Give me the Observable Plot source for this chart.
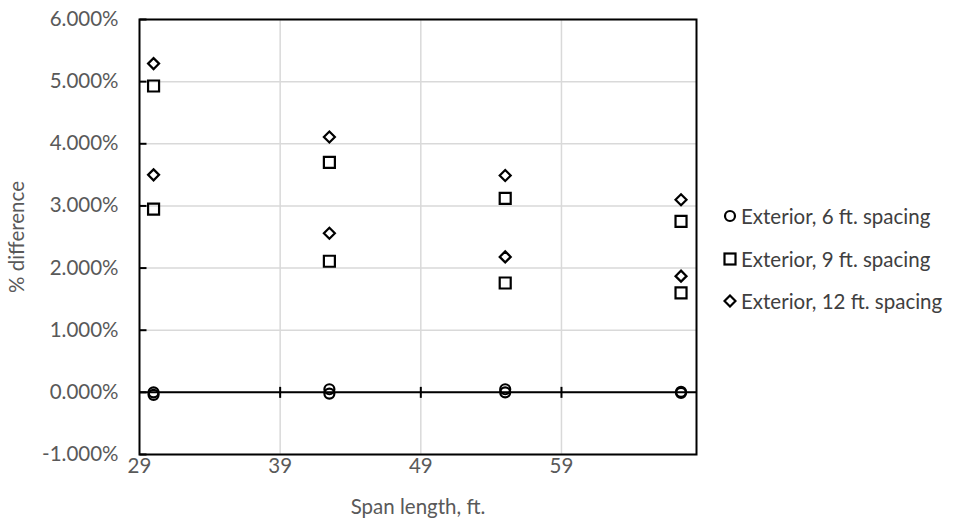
<!DOCTYPE html>
<html><head><meta charset="utf-8">
<script src="https://cdn.jsdelivr.net/npm/d3@7"></script>
<script src="https://cdn.jsdelivr.net/npm/@observablehq/plot@0.6"></script>
<style>
body{margin:0;background:#fff;}
#wrap{position:relative;width:956px;height:524px;font-family:Lato,"Open Sans",sans-serif;}
#legend{position:absolute;left:723px;top:195px;color:#404040;font-size:20.5px;}
.item{display:flex;align-items:center;height:42.5px;white-space:nowrap;}
.item svg{margin-right:4px;flex:none;}
</style></head><body><div id="wrap"><div id="legend"></div></div>
<script>
// Data (values in %)
const spans = [30, 42.5, 55, 67.5];
const ext6A = [0.00, 0.05, 0.05, 0.01];
const ext6B = [-0.04, -0.02, 0.00, -0.01];
const ext9A = [4.93, 3.70, 3.12, 2.75];
const ext9B = [2.95, 2.11, 1.76, 1.60];
const ext12A = [5.29, 4.11, 3.49, 3.10];
const ext12B = [3.50, 2.56, 2.18, 1.87];
const seriesNames = ["Exterior, 6 ft. spacing", "Exterior, 9 ft. spacing", "Exterior, 12 ft. spacing"];
const xTicks = [29, 39, 49, 59];
const yTicks = [-1, 0, 1, 2, 3, 4, 5, 6];

function rows(name, ...arrs) {
  const out = [];
  for (const a of arrs) a.forEach((v, i) => out.push({span: spans[i], value: v, series: name}));
  return out;
}
const d6 = rows(seriesNames[0], ext6A, ext6B);
const d9 = rows(seriesNames[1], ext9A, ext9B);
const d12 = rows(seriesNames[2], ext12A, ext12B);

const circleSym = {draw(ctx){ const r = 5; ctx.moveTo(r, 0); ctx.arc(0, 0, r, 0, 2 * Math.PI); }};
const squareSym = {draw(ctx){ const h = 5.5; ctx.moveTo(-h, -h); ctx.lineTo(h, -h); ctx.lineTo(h, h); ctx.lineTo(-h, h); ctx.closePath(); }};
const diamondSym = {draw(ctx){ const h = 5.5; ctx.moveTo(0, -h); ctx.lineTo(h, 0); ctx.lineTo(0, h); ctx.lineTo(-h, 0); ctx.closePath(); }};
const vTick = {draw(ctx){ ctx.moveTo(0, -5.5); ctx.lineTo(0, 5.5); }};
const hTick = {draw(ctx){ ctx.moveTo(0, 0); ctx.lineTo(7, 0); }};

const font = "Lato, 'Open Sans', sans-serif";
const chart = Plot.plot({
  width: 956, height: 524,
  marginLeft: 139, marginRight: 260, marginTop: 19, marginBottom: 70,
  style: {fontFamily: font, fontSize: "20.5px", color: "#595959", background: "white"},
  x: {domain: [29, 68.6]},
  y: {domain: [-1, 6]},
  marks: [
    Plot.gridX(xTicks.slice(1), {stroke: "#d9d9d9", strokeOpacity: 1, strokeWidth: 1.5}),
    Plot.gridY(yTicks, {stroke: "#d9d9d9", strokeOpacity: 1, strokeWidth: 1.5}),
    Plot.ruleY([0], {stroke: "black", strokeWidth: 2}),
    Plot.dot(xTicks.slice(1), {x: d => d, y: 0, symbol: vTick, stroke: "black", strokeWidth: 2}),
    Plot.dot(yTicks, {x: 29, y: d => d, symbol: hTick, stroke: "black", strokeWidth: 2}),
    Plot.frame({stroke: "black", strokeWidth: 2}),
    Plot.axisY(yTicks, {tickSize: 0, tickPadding: 21, tickFormat: d => d.toFixed(3) + "%", label: null}),
    Plot.axisX(xTicks, {tickSize: 0, tickPadding: 4, label: null}),
    Plot.text(["% difference"], {frameAnchor: "left", dx: -122, rotate: -90, text: d => d, fill: "#595959", textAnchor: "middle", lineAnchor: "middle"}),
    Plot.text(["Span length, ft."], {frameAnchor: "bottom", dy: 53, text: d => d, fill: "#595959", textAnchor: "middle", lineAnchor: "middle"}),
    Plot.dot(d6, {x: "span", y: "value", symbol: circleSym, stroke: "black", fill: "none", strokeWidth: 2.2}),
    Plot.dot(d9, {x: "span", y: "value", symbol: squareSym, stroke: "black", fill: "none", strokeWidth: 2.2}),
    Plot.dot(d12, {x: "span", y: "value", symbol: diamondSym, stroke: "black", fill: "none", strokeWidth: 2.2})
  ]
});
const wrap = document.getElementById("wrap");
wrap.insertBefore(chart, wrap.firstChild);

// Legend
const legend = document.getElementById("legend");
const legendShapes = [
  '<circle cx="7" cy="7" r="5"/>',
  '<rect x="1.5" y="1.5" width="11" height="11"/>',
  '<path d="M7,1.5L12.5,7L7,12.5L1.5,7Z"/>'
];
seriesNames.forEach((name, i) => {
  const item = document.createElement("div");
  item.className = "item";
  item.innerHTML = `<svg width="14" height="14"><g fill="none" stroke="black" stroke-width="2.2">${legendShapes[i]}</g></svg><span>${name}</span>`;
  legend.appendChild(item);
});
</script></body></html>
